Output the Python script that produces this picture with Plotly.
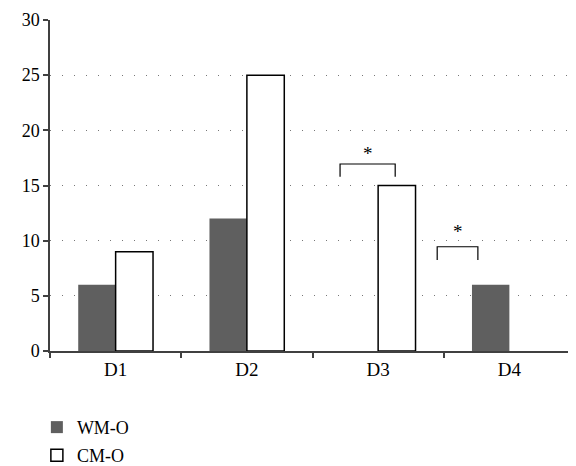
import plotly.graph_objects as go

categories = ["D1", "D2", "D3", "D4"]
wm_o = [6, 12, 0, 6]
cm_o = [9, 25, 15, 0]
y_ticks = [0, 5, 10, 15, 20, 25, 30]

# significance brackets: (x_left, x_right, y_top, y_leg_bottom, star_y)
brackets = [
    (1.71, 2.13, 16.95, 15.8, 17.9),
    (2.45, 2.76, 9.45, 8.25, 10.8),
]

font_family = "Liberation Serif"

fig = go.Figure()
fig.add_trace(go.Bar(
    x=categories, y=wm_o, name="WM-O",
    marker=dict(color="#5f5f5f", line=dict(width=0)),
    legend="legend",
))
fig.add_trace(go.Bar(
    x=categories, y=cm_o, name="CM-O",
    marker=dict(color="white",
                line=dict(color="black", width=[1.5 if v > 0 else 0 for v in cm_o])),
    legend="legend2",
))

for xl, xr, yt, yb, ys in brackets:
    fig.add_shape(type="path",
                  path=f"M {xl} {yb} L {xl} {yt} L {xr} {yt} L {xr} {yb}",
                  xref="x", yref="y", line=dict(color="black", width=1.2))
    fig.add_annotation(x=(xl + xr) / 2, y=ys, xref="x", yref="y", text="*",
                       showarrow=False, font=dict(family=font_family, size=19, color="black"))

fig.update_layout(
    width=568, height=458,
    margin=dict(l=42, r=1, t=12, b=115, autoexpand=False),
    paper_bgcolor="white", plot_bgcolor="white",
    barmode="group", bargap=0.43, bargroupgap=0,
    font=dict(family=font_family, size=18, color="black"),
    showlegend=True,
    legend=dict(x=-0.025, y=-0.175, xanchor="left", yanchor="top",
                font=dict(family=font_family, size=18), bgcolor="rgba(0,0,0,0)"),
    legend2=dict(x=-0.025, y=-0.26, xanchor="left", yanchor="top",
                 font=dict(family=font_family, size=18), bgcolor="rgba(0,0,0,0)"),
)
fig.update_xaxes(
    showline=True, linecolor="#404040", linewidth=1.5,
    ticks="outside", ticklen=5, tickcolor="#404040", tickwidth=1.5,
    tickson="boundaries", showgrid=False,
    tickfont=dict(family=font_family, size=19, color="black"),
)
fig.update_yaxes(
    range=[0, 30], tickvals=y_ticks,
    showline=True, linecolor="#404040", linewidth=1.5,
    ticks="outside", ticklen=5, tickcolor="#404040", tickwidth=1.5,
    showgrid=True, gridcolor="#777777", gridwidth=1, griddash="1px,11px",
    zeroline=False,
    tickfont=dict(family=font_family, size=18, color="black"),
)

fig.write_html("out.html")
